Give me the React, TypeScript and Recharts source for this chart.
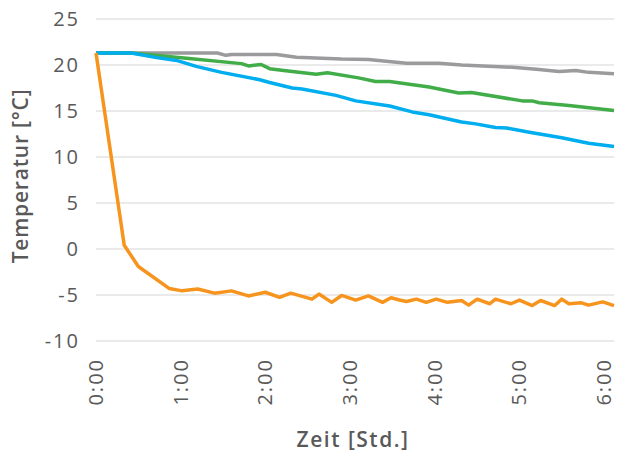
import { LineChart, Line, XAxis, YAxis, CartesianGrid } from 'recharts'

// time in minutes since start, temperature in °C
const grayData = [
    { t: 0, v: 21.3 }, { t: 86, v: 21.3 }, { t: 92, v: 21.05 }, { t: 96, v: 21.15 },
    { t: 128, v: 21.15 }, { t: 142, v: 20.85 }, { t: 174, v: 20.65 }, { t: 193, v: 20.6 },
    { t: 220, v: 20.2 }, { t: 243, v: 20.2 }, { t: 259, v: 20.0 }, { t: 295, v: 19.75 },
    { t: 312, v: 19.55 }, { t: 328, v: 19.3 }, { t: 340, v: 19.4 }, { t: 349, v: 19.2 },
    { t: 367, v: 19.05 }
]

const greenData = [
    { t: 0, v: 21.3 }, { t: 25, v: 21.3 }, { t: 66, v: 20.7 }, { t: 103, v: 20.15 },
    { t: 108, v: 19.9 }, { t: 117, v: 20.05 }, { t: 123, v: 19.6 }, { t: 133, v: 19.4 },
    { t: 156, v: 19.0 }, { t: 164, v: 19.15 }, { t: 186, v: 18.6 }, { t: 198, v: 18.2 },
    { t: 208, v: 18.2 }, { t: 236, v: 17.6 }, { t: 257, v: 16.95 }, { t: 266, v: 17.0 },
    { t: 302, v: 16.1 }, { t: 309, v: 16.1 }, { t: 314, v: 15.9 }, { t: 335, v: 15.6 },
    { t: 367, v: 15.05 }
]

const blueData = [
    { t: 0, v: 21.3 }, { t: 25, v: 21.3 }, { t: 43, v: 20.8 }, { t: 57, v: 20.5 },
    { t: 71, v: 19.85 }, { t: 89, v: 19.2 }, { t: 116, v: 18.4 }, { t: 123, v: 18.1 },
    { t: 139, v: 17.5 }, { t: 146, v: 17.4 }, { t: 170, v: 16.7 }, { t: 184, v: 16.1 },
    { t: 208, v: 15.55 }, { t: 224, v: 14.9 }, { t: 236, v: 14.6 }, { t: 259, v: 13.8 },
    { t: 269, v: 13.6 }, { t: 283, v: 13.2 }, { t: 291, v: 13.15 }, { t: 307, v: 12.7 },
    { t: 330, v: 12.1 }, { t: 349, v: 11.5 }, { t: 367, v: 11.15 }
]

const orangeData = [
    { t: 0, v: 21.3 }, { t: 20, v: 0.4 }, { t: 30, v: -1.9 }, { t: 52, v: -4.3 },
    { t: 61, v: -4.55 }, { t: 72, v: -4.35 }, { t: 84, v: -4.8 }, { t: 96, v: -4.55 },
    { t: 108, v: -5.1 }, { t: 120, v: -4.7 }, { t: 130, v: -5.25 }, { t: 138, v: -4.8 },
    { t: 153, v: -5.45 }, { t: 158, v: -4.9 }, { t: 167, v: -5.8 }, { t: 174, v: -5.05 },
    { t: 184, v: -5.55 }, { t: 193, v: -5.1 }, { t: 203, v: -5.8 }, { t: 209, v: -5.3 },
    { t: 215, v: -5.55 }, { t: 220, v: -5.7 }, { t: 227, v: -5.45 }, { t: 234, v: -5.8 },
    { t: 241, v: -5.45 }, { t: 249, v: -5.8 }, { t: 259, v: -5.6 }, { t: 264, v: -6.1 },
    { t: 270, v: -5.45 }, { t: 279, v: -5.95 }, { t: 283, v: -5.45 }, { t: 294, v: -5.95 },
    { t: 300, v: -5.55 }, { t: 309, v: -6.15 }, { t: 315, v: -5.6 }, { t: 325, v: -6.15 },
    { t: 330, v: -5.45 }, { t: 335, v: -5.95 }, { t: 344, v: -5.85 }, { t: 349, v: -6.1 },
    { t: 359, v: -5.75 }, { t: 367, v: -6.15 }
]

const X_TICKS = [0, 60, 120, 180, 240, 300, 360]
const Y_TICKS = [-10, -5, 0, 5, 10, 15, 20, 25]

const FONT = '"Open Sans", Lato, sans-serif'
const TEXT = '#595959'

const fmtTime = (m: number) => `${Math.floor(m / 60)}:${String(m % 60).padStart(2, '0')}`

function XTick({ x, y, payload }: any) {
    const tx = x + 7
    const ty = y + 17
    return (
        <text x={tx} y={ty} transform={`rotate(-90, ${tx}, ${ty})`} textAnchor="end"
            fill={TEXT} fontSize={20} fontFamily={FONT} letterSpacing={2}>
            {fmtTime(payload.value)}
        </text>
    )
}

function YTick({ x, y, payload }: any) {
    return (
        <text x={x - 16} y={y + 7} textAnchor="end" fill={TEXT} fontSize={20}
            fontFamily={FONT} letterSpacing={2}>
            {payload.value}
        </text>
    )
}

export default function App() {
    return (
        <div style={{ position: 'absolute', left: 0, top: 0, background: '#fff' }}>
            <LineChart width={618} height={454} data={orangeData}
                margin={{ top: 19, right: 4, left: 36, bottom: 43 }}>
                <CartesianGrid vertical={false} stroke="#e3e3e3" strokeWidth={1.5} />
                <XAxis dataKey="t" type="number" domain={[0, 367]} ticks={X_TICKS}
                    axisLine={false} tickLine={false} tickSize={0} tickMargin={0}
                    height={70} interval={0} tick={<XTick />}
                    label={{
                        content: () => (
                            <text x={353} y={447} textAnchor="middle" fill={TEXT}
                                fontSize={21} fontWeight={600} fontFamily={FONT} letterSpacing={1.5}>
                                Zeit [Std.]
                            </text>
                        )
                    }} />
                <YAxis type="number" domain={[-10, 25]} ticks={Y_TICKS} width={60}
                    axisLine={false} tickLine={false} tickSize={0} tickMargin={0}
                    interval={0} tick={<YTick />}
                    label={{
                        content: () => (
                            <text x={28} y={176} transform="rotate(-90, 28, 176)" textAnchor="middle"
                                fill={TEXT} fontSize={21} fontWeight={600} fontFamily={FONT}
                                letterSpacing={0.8}>
                                Temperatur [°C]
                            </text>
                        )
                    }} />
                <Line data={grayData} dataKey="v" stroke="#9b9b9e" strokeWidth={3.5} dot={false}
                    isAnimationActive={false} strokeLinejoin="round" />
                <Line data={greenData} dataKey="v" stroke="#41ad49" strokeWidth={3.5} dot={false}
                    isAnimationActive={false} strokeLinejoin="round" />
                <Line data={blueData} dataKey="v" stroke="#00aeef" strokeWidth={3.5} dot={false}
                    isAnimationActive={false} strokeLinejoin="round" />
                <Line data={orangeData} dataKey="v" stroke="#f7941d" strokeWidth={3.5} dot={false}
                    isAnimationActive={false} strokeLinejoin="round" />
            </LineChart>
        </div>
    )
}
